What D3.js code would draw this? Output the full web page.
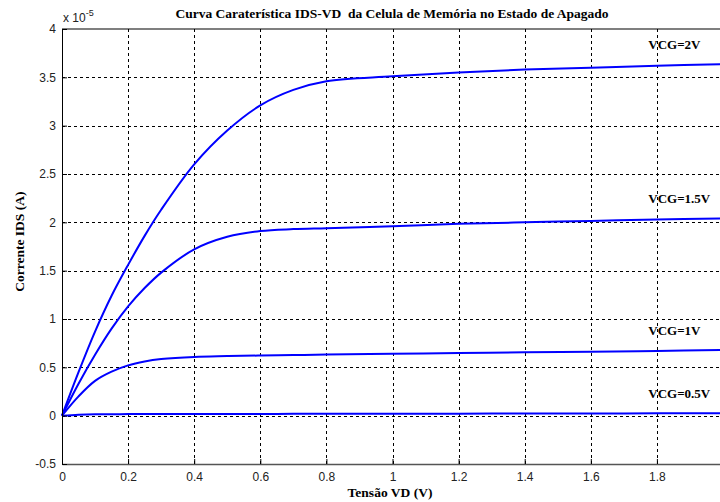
<!DOCTYPE html>
<html>
<head>
<meta charset="utf-8">
<script src="https://cdn.jsdelivr.net/npm/d3@7"></script>
<style>
  body { margin: 0; background: #fff; }
  svg { display: block; }
</style>
</head>
<body>
<div id="chart"></div>
<script>
// tensão de dreno (V)
const vd = [0, 0.05, 0.1, 0.15, 0.2, 0.25, 0.3, 0.4, 0.5, 0.6, 0.7, 0.8, 1.0, 1.2, 1.4, 1.6, 1.8, 2.0];

// corrente IDS (x 1e-5 A) para cada VCG
const ids2V   = [0, 0.45, 0.87, 1.24, 1.56, 1.86, 2.13, 2.60, 2.95, 3.21, 3.37, 3.46, 3.51, 3.55, 3.58, 3.60, 3.62, 3.635];
const ids15V  = [0, 0.33, 0.63, 0.90, 1.13, 1.32, 1.48, 1.72, 1.85, 1.91, 1.93, 1.94, 1.96, 1.985, 2.0, 2.015, 2.03, 2.04];
const ids1V   = [0, 0.20, 0.36, 0.455, 0.52, 0.56, 0.585, 0.608, 0.616, 0.622, 0.627, 0.632, 0.64, 0.648, 0.655, 0.662, 0.67, 0.68];
const ids05V  = [0, 0.01, 0.015, 0.015, 0.016, 0.016, 0.017, 0.017, 0.018, 0.018, 0.019, 0.019, 0.02, 0.021, 0.022, 0.023, 0.024, 0.025];

const seriesNames = ["VCG=2V", "VCG=1.5V", "VCG=1V", "VCG=0.5V"];
const seriesValues = [ids2V, ids15V, ids1V, ids05V];

const xTicks = [0, 0.2, 0.4, 0.6, 0.8, 1, 1.2, 1.4, 1.6, 1.8];
const yTicks = [-0.5, 0, 0.5, 1, 1.5, 2, 2.5, 3, 3.5, 4];

const titleText = "Curva Caraterística IDS-VD  da Celula de Memória no Estado de Apagado";
const xLabel = "Tensão VD (V)";
const yLabel = "Corrente IDS (A)";

const W = 720, H = 502;
const margin = { top: 29, right: -3, bottom: 38, left: 62 };

const svg = d3.select("#chart").append("svg")
  .attr("width", W)
  .attr("height", H);

const x = d3.scaleLinear()
  .domain([0, 2])
  .range([margin.left, W - margin.right]);

const y = d3.scaleLinear()
  .domain([-0.5, 4])
  .range([H - margin.bottom, margin.top]);

const tickFont = "Liberation Sans, Arial, sans-serif";
const serif = "Liberation Serif, Times New Roman, serif";
const fmt = d => String(d); // hífen simples, como no matlab

// grade tracejada
const grid = svg.append("g").attr("shape-rendering", "crispEdges");
grid.selectAll(".vgrid")
  .data(xTicks.filter(d => d > 0))
  .join("line")
  .attr("x1", d => Math.round(x(d)) + 0.5)
  .attr("x2", d => Math.round(x(d)) + 0.5)
  .attr("y1", y(4))
  .attr("y2", y(-0.5))
  .attr("stroke", "#000")
  .attr("stroke-dasharray", "3,3");
grid.selectAll(".hgrid")
  .data(yTicks.filter(d => d > -0.5 && d < 4))
  .join("line")
  .attr("x1", x(0))
  .attr("x2", W)
  .attr("y1", d => Math.round(y(d)) + 0.5)
  .attr("y2", d => Math.round(y(d)) + 0.5)
  .attr("stroke", "#000")
  .attr("stroke-dasharray", "3,3");

// curvas
const line = d3.line()
  .x((d, i) => x(vd[i]))
  .y(d => y(d))
  .curve(d3.curveCatmullRom.alpha(0.5));

svg.append("g")
  .selectAll("path")
  .data(seriesValues)
  .join("path")
  .attr("d", d => line(d))
  .attr("fill", "none")
  .attr("stroke", "#0000ff")
  .attr("stroke-width", 2);

// eixos (estilo matlab, ticks para dentro)
const xAxis = svg.append("g")
  .attr("transform", `translate(0,${y(-0.5)})`)
  .call(d3.axisBottom(x).tickValues(xTicks).tickSizeInner(-5).tickSizeOuter(0).tickPadding(8)
    .tickFormat(fmt));
xAxis.select(".domain").attr("stroke", "#555").attr("stroke-width", 1.5);
xAxis.selectAll(".tick line").attr("stroke", "#000");
xAxis.selectAll("text")
  .style("font-family", tickFont)
  .style("font-size", "12px")
  .attr("fill", "#222");

const yAxis = svg.append("g")
  .attr("transform", `translate(${x(0)},0)`)
  .call(d3.axisLeft(y).tickValues(yTicks).tickSizeInner(-5).tickSizeOuter(0).tickPadding(6)
    .tickFormat(fmt));
yAxis.select(".domain").attr("stroke", "#000");
yAxis.selectAll(".tick line").attr("stroke", "#000");
yAxis.selectAll("text")
  .style("font-family", tickFont)
  .style("font-size", "12px")
  .attr("fill", "#222");

// borda superior
svg.append("line")
  .attr("x1", x(0))
  .attr("x2", W)
  .attr("y1", y(4))
  .attr("y2", y(4))
  .attr("stroke", "#000")
  .attr("stroke-width", 1.2);

// multiplicador
const mult = svg.append("text")
  .attr("x", x(0) + 1)
  .attr("y", 22)
  .style("font-family", tickFont)
  .style("font-size", "12px")
  .attr("fill", "#222");
mult.append("tspan").text("x 10");
mult.append("tspan").attr("dy", -6).style("font-size", "9px").text("-5");

// rótulos das curvas
svg.append("g")
  .selectAll("text")
  .data(seriesNames)
  .join("text")
  .attr("x", x(1.774))
  .attr("y", (d, i) => y(seriesValues[i][seriesValues[i].length - 1]) - 15)
  .text(d => d)
  .style("font-family", serif)
  .style("font-weight", "bold")
  .style("font-size", "13px")
  .attr("fill", "#000");

// título
svg.append("text")
  .attr("x", 392)
  .attr("y", 18)
  .attr("text-anchor", "middle")
  .style("white-space", "pre")
  .style("font-family", serif)
  .style("font-weight", "bold")
  .style("font-size", "13.5px")
  .text(titleText);

svg.append("text")
  .attr("x", 390)
  .attr("y", 497)
  .attr("text-anchor", "middle")
  .style("font-family", serif)
  .style("font-weight", "bold")
  .style("font-size", "13.5px")
  .text(xLabel);

svg.append("text")
  .attr("transform", `translate(24,${y(1.8)}) rotate(-90)`)
  .attr("text-anchor", "middle")
  .style("font-family", serif)
  .style("font-weight", "bold")
  .style("font-size", "13.5px")
  .text(yLabel);
</script>
</body>
</html>
